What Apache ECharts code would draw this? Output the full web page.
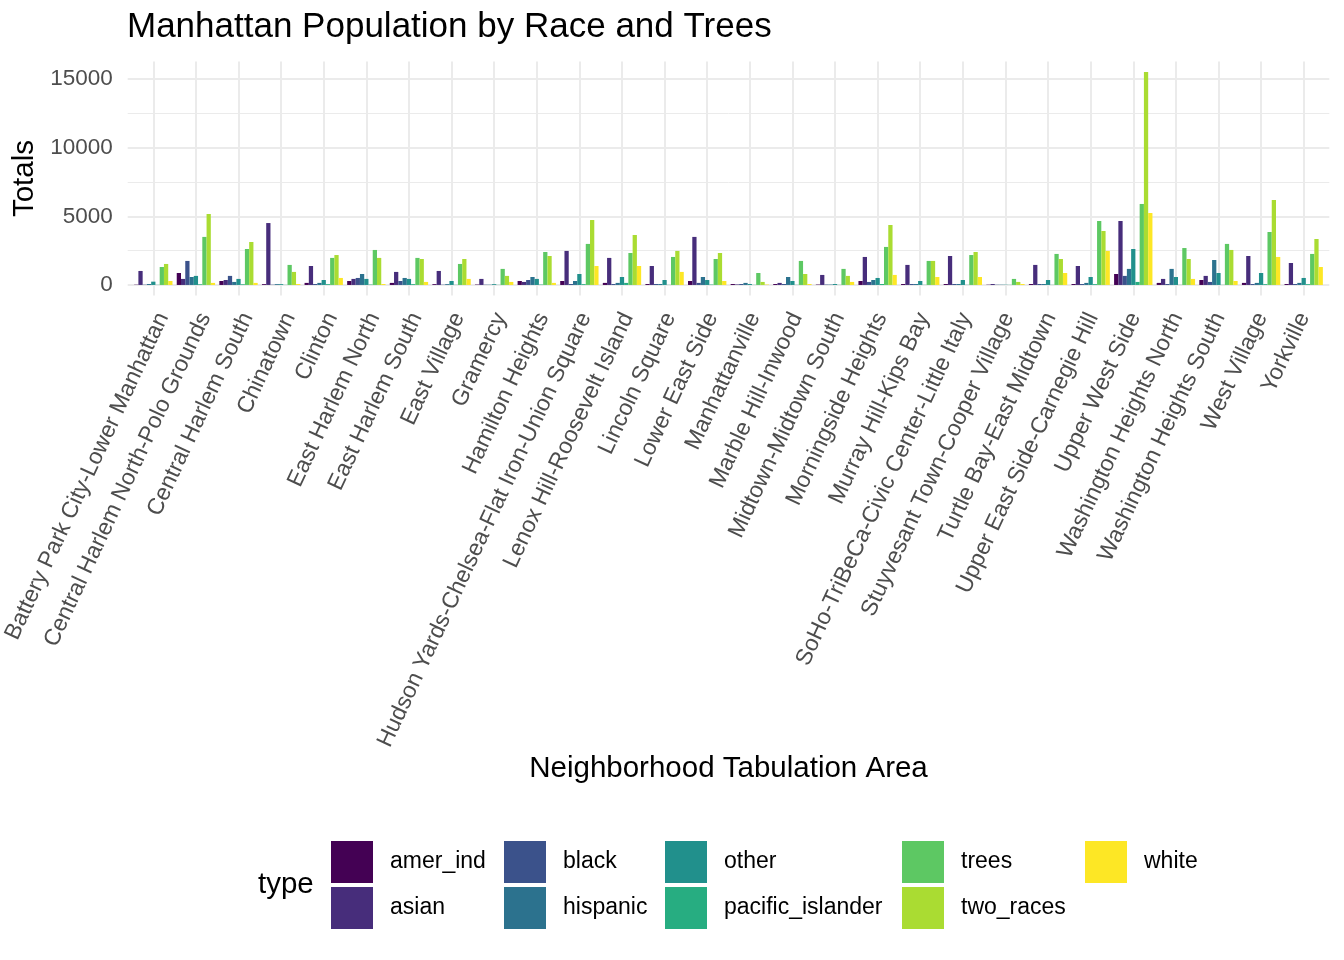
<!DOCTYPE html>
<html>
<head>
<meta charset="utf-8">
<script src="https://cdn.jsdelivr.net/npm/echarts@6/dist/echarts.min.js"></script>
<style>
html,body{margin:0;padding:0;background:#fff;}
#chart{width:1344px;height:960px;}
</style>
</head>
<body>
<div id="chart"></div>
<script>
const categories = [
  'Battery Park City-Lower Manhattan','Central Harlem North-Polo Grounds','Central Harlem South','Chinatown','Clinton',
  'East Harlem North','East Harlem South','East Village','Gramercy','Hamilton Heights',
  'Hudson Yards-Chelsea-Flat Iron-Union Square','Lenox Hill-Roosevelt Island','Lincoln Square','Lower East Side','Manhattanville',
  'Marble Hill-Inwood','Midtown-Midtown South','Morningside Heights','Murray Hill-Kips Bay','SoHo-TriBeCa-Civic Center-Little Italy',
  'Stuyvesant Town-Cooper Village','Turtle Bay-East Midtown','Upper East Side-Carnegie Hill','Upper West Side','Washington Heights North',
  'Washington Heights South','West Village','Yorkville'
];
const seriesNames = ['amer_ind','asian','black','hispanic','other','pacific_islander','trees','two_races','white'];

const amerInd   = [20, 870, 290, 60, 150, 290, 150, 60, 30, 290, 290, 150, 70, 290, 70, 70, 30, 290, 70, 70, 20, 70, 70, 800, 150, 360, 150, 70];
const asian     = [1020, 440, 360, 4510, 1380, 440, 950, 1020, 440, 220, 2480, 1970, 1380, 3500, 40, 150, 730, 2040, 1460, 2110, 70, 1460, 1380, 4660, 440, 660, 2110, 1600];
const black     = [20, 1750, 660, 20, 70, 510, 290, 20, 20, 360, 70, 70, 70, 150, 70, 70, 30, 220, 70, 70, 20, 70, 70, 660, 70, 220, 70, 70];
const hispanic  = [70, 580, 220, 60, 150, 800, 510, 60, 20, 580, 290, 150, 70, 580, 150, 580, 30, 360, 70, 70, 20, 70, 150, 1170, 1170, 1820, 150, 150];
const other     = [240, 660, 440, 60, 360, 440, 440, 290, 60, 440, 800, 580, 360, 360, 70, 290, 70, 510, 290, 360, 20, 360, 580, 2620, 580, 870, 870, 510];
const pacificIslander = [10, 50, 50, 10, 60, 30, 60, 10, 10, 30, 60, 150, 10, 30, 10, 10, 10, 70, 10, 10, 10, 10, 60, 220, 10, 10, 60, 60];
const trees     = [1310, 3500, 2620, 1460, 1970, 2550, 1970, 1530, 1170, 2400, 2990, 2330, 2040, 1890, 870, 1750, 1170, 2770, 1750, 2180, 440, 2260, 4660, 5900, 2690, 2990, 3860, 2260];
const twoRaces  = [1530, 5170, 3130, 950, 2180, 1970, 1890, 1890, 660, 2110, 4730, 3640, 2480, 2330, 220, 800, 660, 4370, 1750, 2400, 220, 1890, 3930, 15510, 1890, 2550, 6190, 3350];
const white     = [290, 150, 150, 70, 510, 70, 220, 440, 220, 150, 1380, 1380, 950, 290, 30, 70, 220, 730, 580, 580, 70, 870, 2480, 5240, 440, 290, 2040, 1310];

const yTicks = [0, 5000, 10000, 15000];
const yMinorTicks = [2500, 7500, 12500];
const yRange = [-775, 16285];

const colors = ['#440154','#472D7B','#3B528B','#2C728E','#21908C','#27AD81','#5DC863','#AADC32','#FDE725'];
const seriesValues = [amerInd, asian, black, hispanic, other, pacificIslander, trees, twoRaces, white];
const legendColumns = [['amer_ind','asian'],['black','hispanic'],['other','pacific_islander'],['trees','two_races'],['white']];
const legendLefts = [331, 504, 665, 902, 1085];

const FONT = "'Liberation Sans', Arial, Helvetica, sans-serif";
const GRID_TOP = 61.4, GRID_BOTTOM = 960 - 295.6;
const GRIDLINE = '#EBEBEB';

const chart = echarts.init(document.getElementById('chart'), null, {renderer: 'canvas'});

const barSeries = seriesNames.map((n, i) => ({
  name: n, type: 'bar', xAxisIndex: 0, yAxisIndex: 0,
  data: seriesValues[i], z: 10,
  itemStyle: {color: colors[i]},
  barGap: '0%', barCategoryGap: '10%'
}));

const option = {
  animation: false,
  backgroundColor: '#ffffff',
  textStyle: {fontFamily: FONT},
  title: {
    text: 'Manhattan Population by Race and Trees',
    left: 122, top: 5,
    textStyle: {fontFamily: FONT, fontSize: 35, fontWeight: 'normal', color: '#000'}
  },
  legend: legendColumns.map((col, k) => ({
    data: col,
    orient: 'vertical',
    left: legendLefts[k], top: 841,
    padding: 0,
    itemWidth: 42, itemHeight: 42, itemGap: 4,
    icon: 'rect',
    selectedMode: false,
    textStyle: {fontFamily: FONT, fontSize: 23, color: '#000', padding: [7, 0, 0, 12]}
  })),
  graphic: [
    {type: 'text', x: 258, y: 885, style: {text: 'type', font: '29.5px ' + FONT, fill: '#000', textAlign: 'left', textVerticalAlign: 'middle'}},
    {type: 'text', x: 728.5, y: 769, style: {text: 'Neighborhood Tabulation Area', font: '29.5px ' + FONT, fill: '#000', textAlign: 'center', textVerticalAlign: 'middle'}},
    {type: 'text', x: 24.5, y: 178.5, rotation: Math.PI / 2, style: {text: 'Totals', font: '29.5px ' + FONT, fill: '#000', textAlign: 'center', textVerticalAlign: 'middle'}}
  ],
  grid: [
    {left: 132, right: 19, top: GRID_TOP, bottom: GRID_BOTTOM},
    {left: 127.7, right: 14.7, top: GRID_TOP, bottom: GRID_BOTTOM},
    {left: 132, right: 19, top: GRID_TOP, bottom: GRID_BOTTOM}
  ],
  xAxis: [
    {gridIndex: 0, type: 'category', data: categories, axisLine: {show: false}, axisTick: {show: false}, axisLabel: {show: false}, splitLine: {show: false}},
    {gridIndex: 1, type: 'value', min: 0, max: 1, show: false},
    {gridIndex: 2, type: 'category', data: categories, axisLine: {show: false}, axisTick: {show: false}, splitLine: {show: false},
      axisLabel: {show: true, interval: 0, rotate: 65, margin: 18.5, fontFamily: FONT, fontSize: 23, color: '#4D4D4D'}}
  ],
  yAxis: [
    {gridIndex: 0, type: 'value', min: yRange[0], max: yRange[1], show: false},
    {gridIndex: 1, type: 'value', min: yRange[0], max: yRange[1], splitNumber: 3,
      axisLine: {show: false}, axisTick: {show: false}, splitLine: {show: false},
      axisLabel: {show: true, margin: 15, fontFamily: FONT, fontSize: 22.5, color: '#4D4D4D', customValues: yTicks,
        formatter: v => String(v)}},
    {gridIndex: 2, type: 'value', min: yRange[0], max: yRange[1], show: false}
  ],
  series: [
    {
      name: '_hgrid', type: 'line', xAxisIndex: 1, yAxisIndex: 1, data: [], z: 1, silent: true,
      markLine: {
        silent: true, symbol: ['none', 'none'], label: {show: false}, animation: false,
        data: yTicks.map(v => ({yAxis: v, lineStyle: {color: GRIDLINE, width: 2, type: 'solid'}}))
          .concat(yMinorTicks.map(v => ({yAxis: v, lineStyle: {color: GRIDLINE, width: 1, type: 'solid'}})))
      }
    },
    {
      name: '_vgrid', type: 'line', xAxisIndex: 0, yAxisIndex: 0, data: [], z: 1, silent: true,
      markLine: {
        silent: true, symbol: ['none', 'none'], label: {show: false}, animation: false,
        lineStyle: {color: GRIDLINE, width: 2, type: 'solid'},
        data: categories.map(c => ({xAxis: c}))
      }
    }
  ].concat(barSeries)
};

chart.setOption(option);
</script>
</body>
</html>
